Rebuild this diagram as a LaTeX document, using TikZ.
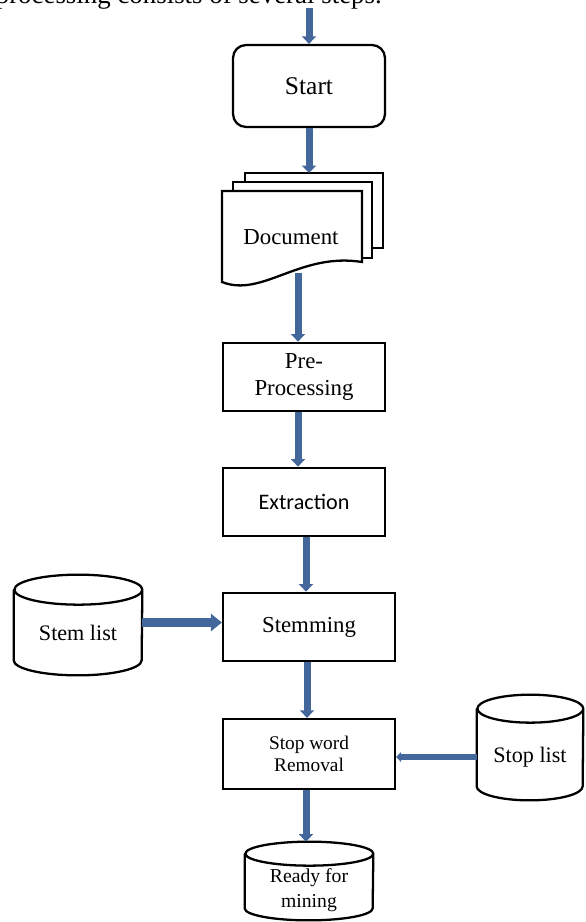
\documentclass[tikz,border=0pt]{standalone}
\usepackage{fontspec}
\setmainfont{Liberation Serif}
\newfontfamily\carlito{Carlito}
\usepackage{tikz}
\usetikzlibrary{shapes.geometric, arrows.meta, positioning, calc}
\usepackage{xcolor}
\definecolor{flowBlue}{HTML}{43679A}
\tikzset{
  stepbox/.style={draw=black, line width=1.3pt, fill=white, align=center,
               minimum width=3.24cm, minimum height=1.37cm, font=\fontsize{13}{15.3}\selectfont},
  store/.style={align=center, inner sep=0pt, font=\fontsize{12.6}{14}\selectfont},
  tank/.style={draw=black, line width=1.3pt, fill=white},
  page/.style={draw=black, line width=1.3pt, fill=white},
  flow/.style={-{Triangle[width=0.28cm,length=0.15cm]}, draw=flowBlue, line width=0.14cm},
}

\begin{document}
\begin{tikzpicture}[x=0.02cm, y=-0.02cm]
\useasboundingbox (0,0) rectangle (585,922);
\node[anchor=base east, font=\fontsize{15.3}{18}\selectfont] (intro) at (388,4) {processing consists of several steps.};

% start
\node[draw=black, line width=1.3pt, rounded corners=0.26cm, fill=white,
      minimum width=3.04cm, minimum height=1.64cm, font=\fontsize{14.5}{16}\selectfont] (start) at (309,86) {Start};
\coordinate (in) at (309,8);
\draw[flow] (in) -- (start.north);

% document pages
\draw[page] (245,173) rectangle (383,248);
\draw[page] (233,182) rectangle (372,258);
\draw[page] (222,282) -- (222,191) -- (362,191) -- (362,262)
  .. controls (300,252) and (262,298) .. (222,282) -- cycle;
\node[font=\fontsize{13}{15}\selectfont] (doc) at (291,237) {Document};
\coordinate (doctop) at (309,173);
\coordinate (docbot) at (298,273);
\draw[flow] (start.south) -- (doctop);

% steps
\node[stepbox] (pre) at (304,377) {Pre-\\Processing};
\node[stepbox, font=\carlito\fontsize{12.6}{15}\selectfont] (ext) at (304,502) {Extraction};
\node[stepbox, minimum width=3.44cm] (stem) at (309,627) {Stemming};
\node[stepbox, minimum width=3.44cm, minimum height=1.4cm,
      font=\fontsize{11}{12.5}\selectfont] (stop) at (309,754) {Stop word\\Removal};

% stores (body below the top ellipse)
\node[store, minimum width=2.56cm, minimum height=1.7cm] (stemlist) at (78,632.5) {};
\draw[tank] (stemlist.north west) -- ([yshift=0.3cm]stemlist.south west)
  arc[start angle=180, end angle=360, x radius=1.28cm, y radius=0.3cm]
  -- (stemlist.north east)
  arc[start angle=0, end angle=180, x radius=1.28cm, y radius=0.3cm]
  arc[start angle=180, end angle=360, x radius=1.28cm, y radius=0.3cm];
\node[store] at (stemlist) {Stem list};

\node[store, minimum width=2.12cm, minimum height=1.82cm] (stoplist) at (530,754.5) {};
\draw[tank] (stoplist.north west) -- ([yshift=0.28cm]stoplist.south west)
  arc[start angle=180, end angle=360, x radius=1.06cm, y radius=0.28cm]
  -- (stoplist.north east)
  arc[start angle=0, end angle=180, x radius=1.06cm, y radius=0.28cm]
  arc[start angle=180, end angle=360, x radius=1.06cm, y radius=0.28cm];
\node[store] at ([yshift=-0.06cm]stoplist) {Stop list};

\node[store, minimum width=2.56cm, minimum height=1.32cm] (ready) at (309,887) {};
\draw[tank] (ready.north west) -- ([yshift=0.24cm]ready.south west)
  arc[start angle=180, end angle=360, x radius=1.28cm, y radius=0.24cm]
  -- (ready.north east)
  arc[start angle=0, end angle=180, x radius=1.28cm, y radius=0.24cm]
  arc[start angle=180, end angle=360, x radius=1.28cm, y radius=0.24cm];
\node[store, font=\fontsize{11.2}{14}\selectfont] at ([yshift=-0.06cm]ready) {Ready for\\mining};

% connectors
\draw[flow] (docbot) -- (docbot |- pre.north);
\draw[flow] ([xshift=-0.12cm]pre.south) -- ([xshift=-0.12cm]ext.north);
\draw[flow] ([xshift=0.04cm]ext.south) -- ([xshift=0.04cm]ext.south |- stem.north);
\draw[flow] ([xshift=-0.04cm]stem.south) -- ([xshift=-0.04cm]stop.north);
\draw[flow] ([xshift=-0.06cm]stop.south) -- ([xshift=-0.06cm,yshift=0.24cm]ready.north);
\draw[flow, line width=0.17cm, -{Triangle[width=0.34cm,length=0.22cm]}]
  ([yshift=0.2cm]stemlist.east) -- ([yshift=0.2cm]stemlist.east -| stem.west);
\draw[flow, line width=0.12cm, -{Triangle[width=0.2cm,length=0.1cm]}]
  ([yshift=-0.05cm]stoplist.west) -- ([yshift=-0.05cm]stoplist.west -| stop.east);
\end{tikzpicture}
\end{document}
